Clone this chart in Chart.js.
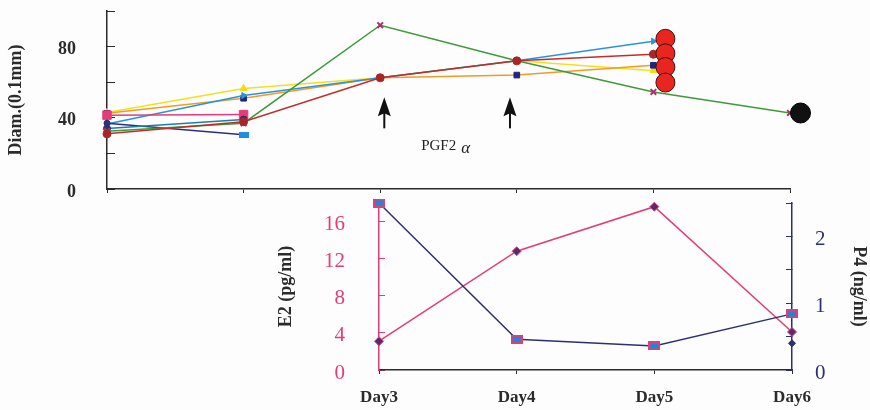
<!DOCTYPE html>
<html>
<head>
<meta charset="utf-8">
<script src="https://cdn.jsdelivr.net/npm/chart.js@4/dist/chart.umd.min.js"></script>
<style>
  html, body { margin: 0; padding: 0; background: #fdfdfd; }
  #wrap { position: relative; width: 870px; height: 410px; }
  #follicles { position: absolute; left: 0; top: 0; }
  #hormones { position: absolute; left: 0; top: 190px; }
</style>
</head>
<body>
<div id="wrap">
  <canvas id="follicles" width="870" height="200"></canvas>
  <canvas id="hormones" width="870" height="220"></canvas>
</div>
<script>
// ---- follicle diameters (0.1 mm), one value per day ----
const dayLabels = ['Day1', 'Day2', 'Day3', 'Day4', 'Day5', 'Day6'];
const dayIndex = [1, 2, 3, 4, 5, 6];
const follicleYellow = [43, 56.5, 62.5, 72, 66.5, null];
const follicleOrange = [42.5, 51, 62.5, 64, 69.5, null];
const follicleBlue = [36.5, 52.5, 62.5, 72, 83, null];
const folliclePink = [41.5, 41.8, null, null, null, null];
const follicleNavy = [37, 30.5, null, null, null, null];
const follicleTeal = [34, 39, null, null, null, null];
const follicleGreen = [32.5, 37, 92, 72, 54.5, 42.7];
const follicleRed = [31, 37.8, 62.5, 72, 75.7, null];

// ovulated follicles (Day5) and the regressed one (Day6)
const ovulatedDay = 5;
const ovulatedSizes = [84.4, 76.2, 68.5, 59.8];
const regressedDay = 6;
const regressedSizes = [42.7];

// PGF2α injections
const pgfDays = [3.03, 3.95];
const pgfArrowTip = 51.5;

// ---- plasma hormones ----
const hormoneDays = ['Day3', 'Day4', 'Day5', 'Day6'];
const e2Values = [3.1, 12.8, 17.6, 4.1];       // pg/ml
const p4Values = [2.5, 0.46, 0.36, 0.84];      // ng/ml
const p4Repeat = [null, null, null, 0.40];     // ng/ml

const serif = '"Liberation Serif", "Times New Roman", serif';
const dark = '#2b2b2b';
const pink = '#e23d7a';
const navy = '#2c3072';
Chart.defaults.font.family = serif;

// small image markers
function rectMarker(w, h, edge, fill, bw) {
  const c = document.createElement('canvas');
  c.width = w; c.height = h;
  const g = c.getContext('2d');
  g.fillStyle = edge; g.fillRect(0, 0, w, h);
  g.fillStyle = fill; g.fillRect(bw, bw, w - 2 * bw, h - 2 * bw);
  return c;
}
const p4Marker = rectMarker(12, 9, pink, '#1f86d4', 2);
const blueBar = rectMarker(10, 6, '#1e8fe0', '#1e8fe0', 0);

function pts(arr) { return dayIndex.map((d, i) => ({ x: d, y: arr[i] })); }
function series(label, arr, color, extra) {
  return Object.assign({
    label, data: pts(arr), borderColor: color, backgroundColor: color,
    borderWidth: 1.5, pointRadius: 3.5, pointBorderWidth: 1, pointHoverRadius: 0,
    tension: 0, clip: false, spanGaps: false
  }, extra || {});
}

// fixed axis box size, with no extra label padding around the plot
function fixWidth(w) {
  return s => { s.width = w; s.paddingTop = 0; s.paddingBottom = 0; };
}
function fixHeight(h) {
  return s => { s.height = h; s.paddingLeft = 0; s.paddingRight = 0; };
}

// shifts a dataset's markers sideways by its `nudge` (px)
const nudgePlugin = {
  id: 'nudge',
  afterDatasetUpdate(chart, args) {
    const ds = chart.data.datasets[args.index];
    if (!ds.nudge) return;
    args.meta.data.forEach(el => { el.x += ds.nudge; });
  }
};

// arrows and label for the PGF2α injections
const pgfPlugin = {
  id: 'pgf',
  afterDatasetsDraw(chart) {
    const { ctx, scales: { x, y } } = chart;
    ctx.save();
    ctx.fillStyle = '#111';
    ctx.strokeStyle = '#111';
    pgfDays.forEach(d => {
      const px = x.getPixelForValue(d);
      const tip = y.getPixelForValue(pgfArrowTip);
      ctx.lineWidth = 2;
      ctx.beginPath(); ctx.moveTo(px, tip + 15); ctx.lineTo(px, tip + 31); ctx.stroke();
      ctx.beginPath();
      ctx.moveTo(px, tip);
      ctx.lineTo(px + 6.5, tip + 19);
      ctx.lineTo(px, tip + 16);
      ctx.lineTo(px - 6.5, tip + 19);
      ctx.closePath(); ctx.fill();
    });
    const mid = x.getPixelForValue((pgfDays[0] + pgfDays[1]) / 2);
    const base = y.getPixelForValue(22);
    ctx.fillStyle = '#222';
    ctx.textBaseline = 'alphabetic';
    ctx.textAlign = 'left';
    ctx.font = '15px ' + serif;
    const start = mid - 26;
    ctx.fillText('PGF2', start, base);
    const w = ctx.measureText('PGF2').width;
    ctx.font = 'italic 17px ' + serif;
    ctx.fillText('α', start + w + 5, base + 3);
    ctx.restore();
  }
};

new Chart(document.getElementById('follicles'), {
  type: 'line',
  data: {
    datasets: [
      {
        label: 'ovulated', data: ovulatedSizes.map(v => ({ x: ovulatedDay, y: v })),
        showLine: false, pointRadius: 9.5, pointBackgroundColor: '#e8261f',
        pointBorderColor: '#4a0d0d', pointBorderWidth: 1, pointHoverRadius: 0,
        clip: false, nudge: 12
      },
      {
        label: 'regressed', data: regressedSizes.map(v => ({ x: regressedDay, y: v })),
        showLine: false, pointRadius: 10, pointBackgroundColor: '#111',
        pointBorderColor: '#000', pointBorderWidth: 1, pointHoverRadius: 0,
        clip: false, nudge: 10.5
      },
      series('F8', follicleRed, '#bf2f2a', { pointBackgroundColor: '#a82626', pointBorderColor: '#a82626', pointRadius: 4 }),
      series('F7', follicleGreen, '#3d9a3a', { pointStyle: 'crossRot', pointBorderColor: '#a8306a', pointBorderWidth: 2, pointRadius: 4 }),
      series('F6', follicleTeal, '#1c7fa6', { pointBackgroundColor: '#2c2f7c', pointBorderColor: '#2c2f7c', pointRadius: 3.5 }),
      series('F5', follicleNavy, '#2c2f7c', { pointStyle: [null, blueBar], pointRadius: 3, pointBackgroundColor: '#2c2f7c' }),
      series('F4', folliclePink, '#e23d7a', { pointStyle: 'rect', pointRadius: 6, pointBorderColor: '#e23d7a' }),
      series('F3', follicleBlue, '#2b93dc', { pointStyle: 'triangle', pointRotation: 90, pointRadius: 3.5 }),
      series('F2', follicleOrange, '#f39a25', { pointStyle: 'rect', pointRadius: 4, pointBackgroundColor: '#22267a', pointBorderColor: '#22267a' }),
      series('F1', follicleYellow, '#f4e01c', { pointStyle: 'triangle', pointRadius: 4, pointBackgroundColor: '#f2dc10', pointBorderColor: '#f2dc10' })
    ]
  },
  options: {
    responsive: false,
    animation: false,
    events: [],
    layout: { padding: { top: 7, right: 80, left: 0, bottom: 0 } },
    plugins: { legend: { display: false }, tooltip: { enabled: false } },
    scales: {
      x: {
        type: 'linear', min: 1, max: 6,
        ticks: { display: false, stepSize: 1 },
        grid: { drawOnChartArea: false, color: dark, tickLength: 4 },
        border: { color: dark, width: 1.5 },
        afterFit: fixHeight(9)
      },
      y: {
        min: 0, max: 100,
        ticks: {
          stepSize: 20,
          callback: v => (v % 40 === 0 ? String(v) : ''),
          color: dark, font: { family: serif, size: 18, weight: 'bold' },
          padding: 39, labelOffset: 3
        },
        grid: { drawOnChartArea: false, color: dark, tickLength: -8 },
        border: { color: dark, width: 1.5 },
        title: {
          display: true, text: 'Diam.(0.1mm)', color: dark,
          font: { family: serif, size: 18, weight: 'bold' }, padding: { top: 6 }
        },
        afterFit: fixWidth(107)
      }
    }
  },
  plugins: [nudgePlugin, pgfPlugin]
});

new Chart(document.getElementById('hormones'), {
  type: 'line',
  data: {
    labels: hormoneDays,
    datasets: [
      {
        label: 'P4', data: p4Values, yAxisID: 'p4', borderColor: navy, borderWidth: 1.5,
        pointStyle: p4Marker, pointRadius: 5, pointHoverRadius: 0, tension: 0, clip: false
      },
      {
        label: 'E2', data: e2Values, yAxisID: 'e2', borderColor: pink, borderWidth: 1.5,
        pointStyle: 'rectRot', pointRadius: 4.5, pointBackgroundColor: '#5a2a6e',
        pointBorderColor: pink, pointBorderWidth: 1, pointHoverRadius: 0, tension: 0, clip: false
      },
      {
        label: 'P4 repeat', data: p4Repeat, yAxisID: 'p4', showLine: false,
        pointStyle: 'rectRot', pointRadius: 3.5, pointBackgroundColor: navy,
        pointBorderColor: navy, pointHoverRadius: 0, clip: false
      }
    ]
  },
  options: {
    responsive: false,
    animation: false,
    events: [],
    layout: { padding: { top: 13, right: 0, left: 0, bottom: 0 } },
    plugins: { legend: { display: false }, tooltip: { enabled: false } },
    scales: {
      x: {
        type: 'category', offset: false,
        grid: { drawOnChartArea: false, color: dark, tickLength: 4 },
        border: { color: dark, width: 1.5 },
        ticks: { color: dark, font: { family: serif, size: 17, weight: 'bold' }, padding: 13, maxRotation: 0 },
        afterFit: fixHeight(40)
      },
      e2: {
        position: 'left', min: 0, max: 18,
        ticks: {
          stepSize: 2,
          callback: v => (v % 4 === 0 ? String(v) : ''),
          color: pink, font: { family: serif, size: 21 }, padding: 40, labelOffset: 3
        },
        grid: { drawOnChartArea: false, color: pink, tickLength: -6 },
        border: { color: pink, width: 1.5 },
        title: {
          display: true, text: 'E2 (pg/ml)', color: dark,
          font: { family: serif, size: 18, weight: 'bold' }, padding: { top: 276 }
        },
        afterFit: fixWidth(379)
      },
      p4: {
        position: 'right', min: 0, max: 2.5,
        ticks: {
          stepSize: 0.5,
          callback: v => (Number.isInteger(v) ? String(v) : ''),
          color: navy, font: { family: serif, size: 21 }, padding: 29, labelOffset: 3
        },
        grid: { drawOnChartArea: false, color: navy, tickLength: -6 },
        border: { color: navy, width: 1.5 },
        title: {
          display: true, text: 'P4 (ng/ml)', color: dark,
          font: { family: serif, size: 18, weight: 'bold' }, padding: { top: 1 }
        },
        afterFit: fixWidth(78)
      }
    }
  }
});
</script>
</body>
</html>
